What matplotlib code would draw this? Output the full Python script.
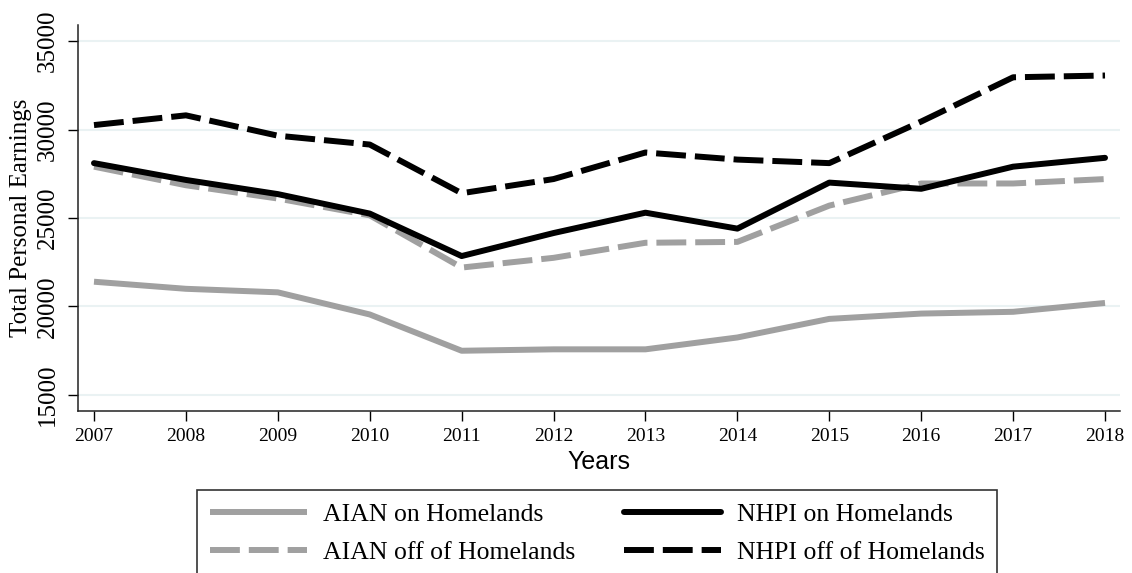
import matplotlib
matplotlib.use("Agg")
import matplotlib.pyplot as plt

years = [2007, 2008, 2009, 2010, 2011, 2012, 2013, 2014, 2015, 2016, 2017, 2018]
aian_on = [21400, 21000, 20800, 19550, 17500, 17580, 17580, 18250, 19300, 19600, 19700, 20200]
aian_off = [27900, 26850, 26100, 25150, 22200, 22750, 23600, 23650, 25700, 26950, 26950, 27200]
nhpi_on = [28100, 27150, 26350, 25250, 22850, 24150, 25300, 24400, 27000, 26650, 27900, 28400]
nhpi_off = [30250, 30800, 29650, 29150, 26400, 27200, 28700, 28300, 28100, 30450, 32950, 33050]
yticks = [15000, 20000, 25000, 30000, 35000]
labels = ["AIAN on Homelands", "AIAN off of Homelands", "NHPI on Homelands", "NHPI off of Homelands"]

plt.rcParams['font.family'] = ['Liberation Serif', 'DejaVu Serif']

fig = plt.figure(figsize=(11.32, 5.73), dpi=100)
ax = fig.add_axes([78/1132, 1-411/573, (1120-78)/1132, (411-25)/573])

gray = '#A0A0A0'
lw = 4.3
dash = (5.0, 1.5)
l1, = ax.plot(years, aian_on, color=gray, lw=lw, solid_capstyle='butt')
l2, = ax.plot(years, aian_off, color=gray, lw=lw, dashes=dash)
l3, = ax.plot(years, nhpi_on, color='black', lw=lw, solid_capstyle='round')
l4, = ax.plot(years, nhpi_off, color='black', lw=lw, dashes=dash)

ax.set_xlim(2006.826, 2018.163)
ax.set_ylim(14096, 35904)
ax.set_xticks(years)
ax.set_yticks(yticks)
ax.set_yticklabels([str(v) for v in yticks], rotation=90, va='center', ha='right', fontsize=18)
ax.tick_params(axis='x', labelsize=14, length=7, width=1, pad=5, direction='out')
ax.tick_params(axis='y', length=7, width=1, pad=7, direction='out')
ax.grid(axis='y', color='#EAF2F3', lw=1.5)
ax.set_axisbelow(True)
for s in ['top', 'right']:
    ax.spines[s].set_visible(False)
for s in ['left', 'bottom']:
    ax.spines[s].set_linewidth(1.1)
    ax.spines[s].set_color('#222222')

ax.set_ylabel("Total Personal Earnings", fontsize=18, labelpad=3)
ax.set_xlabel("Years", fontsize=18, family='Liberation Sans', labelpad=4)

leg = fig.legend([l1, l2, l3, l4], labels, loc='upper center', ncol=2,
                 bbox_to_anchor=(597/1132, 1-490/573), fontsize=18.5,
                 frameon=True, fancybox=False, edgecolor='black',
                 handlelength=3.8, handletextpad=0.6, columnspacing=1.9,
                 labelspacing=0.6, borderpad=0.5, borderaxespad=0)
leg.get_frame().set_linewidth(1.2)

fig.savefig("out.png", dpi=100)
